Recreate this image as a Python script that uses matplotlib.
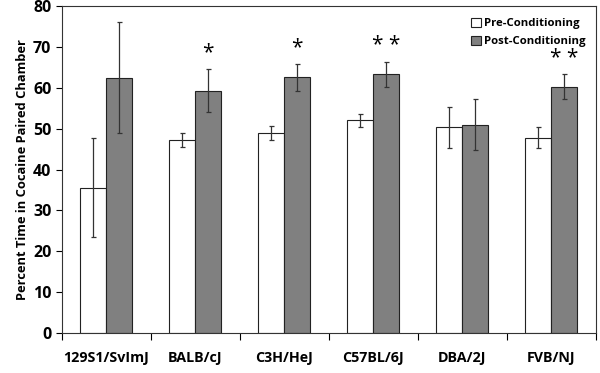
import matplotlib.pyplot as plt
import numpy as np

strains = ['129S1/SvImJ', 'BALB/cJ', 'C3H/HeJ', 'C57BL/6J', 'DBA/2J', 'FVB/NJ']
pre = [35.5, 47.2, 48.9, 52.0, 50.3, 47.8]
pre_err = [12.1, 1.8, 1.8, 1.7, 5.1, 2.5]
post = [62.5, 59.3, 62.6, 63.3, 51.0, 60.3]
post_err = [13.5, 5.3, 3.3, 3.1, 6.2, 3.1]
stars = ['', '*', '*', '* *', '', '* *']

plt.rcParams['font.family'] = ['Open Sans', 'DejaVu Sans']
plt.rcParams['font.weight'] = 'bold'

fig = plt.figure(figsize=(6, 3.73), dpi=100)
ax = fig.add_axes([0.103, 0.107, 0.890, 0.877])

x = np.arange(len(strains))
w = 0.29
ekw = dict(ecolor='#333333', elinewidth=0.9, capsize=1.8, capthick=0.9)
ax.bar(x - w / 2, pre, w, yerr=pre_err, color='white', edgecolor='#222222',
       linewidth=0.8, error_kw=ekw, label='Pre-Conditioning')
ax.bar(x + w / 2, post, w, yerr=post_err, color='#808080', edgecolor='#222222',
       linewidth=0.8, error_kw=ekw, label='Post-Conditioning')

# significance marks above the post bars
for i in range(len(strains)):
    if stars[i]:
        ax.text(x[i] + w / 2, post[i] + post_err[i] + 1.3, stars[i], ha='center',
                va='bottom', fontsize=15, fontweight='normal')

ax.set_xlim(-0.5, len(strains) - 0.5)
ax.set_ylim(0, 80)
ax.set_yticks(range(0, 81, 10))
ax.set_xticks(np.arange(-0.5, len(strains), 1.0))
ax.set_xticklabels([])
ax.set_xticks(x, minor=True)
ax.set_xticklabels(strains, minor=True, fontsize=10.3, fontweight='bold')
ax.tick_params(axis='x', which='minor', length=0, pad=13)
ax.tick_params(axis='x', which='major', length=5, direction='out', width=0.8)
ax.tick_params(axis='y', length=4, direction='out', width=0.8, labelsize=11.5)
for lab in ax.get_yticklabels():
    lab.set_fontweight('bold')
ax.set_ylabel('Percent Time in Cocaine Paired Chamber', fontsize=9.3, fontweight='bold',
              labelpad=3)
for s in ax.spines.values():
    s.set_linewidth(0.8)
    s.set_color('#333333')

ax.legend(loc='upper right', bbox_to_anchor=(1.0, 0.995), frameon=False,
          handlelength=0.8, handleheight=0.8, handletextpad=0.3,
          labelspacing=0.6, prop={'weight': 'bold', 'size': 8.2})

fig.savefig('out.png', dpi=100)
